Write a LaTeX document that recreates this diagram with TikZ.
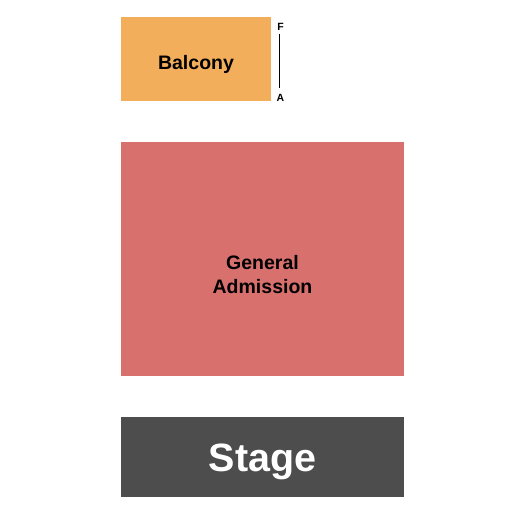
\documentclass[tikz,border=0pt]{standalone}
\usepackage{fontspec}
\setmainfont{Liberation Sans}
\definecolor{balc}{HTML}{F3AE5B}
\definecolor{ga}{HTML}{D8706E}
\definecolor{stg}{HTML}{4D4D4D}
\begin{document}
\begin{tikzpicture}[x=1pt,y=-1pt,
  sect/.style={draw=none,inner sep=0pt,anchor=north west},
  lbl/.style={font=\fontsize{19.5}{22.5}\selectfont\bfseries,inner sep=0pt,anchor=base},
  rowlbl/.style={font=\fontsize{10.5}{12}\selectfont\bfseries,inner sep=0pt,anchor=base}]
\useasboundingbox (0,0) rectangle (525,525);
\fill[white] (0,0) rectangle (525,525);
\node[sect,fill=balc,minimum width=150pt,minimum height=84pt] (balcony) at (121,17) {};
\node[lbl] (tb) at (196,69) {Balcony};
\node[sect,fill=ga,minimum width=283pt,minimum height=234pt] (gen) at (121,142) {};
\node[lbl] (tg1) at (262.5,269.5) {General};
\node[lbl] (tg2) at (262.5,293) {Admission};
\node[sect,fill=stg,minimum width=283pt,minimum height=80pt] (stage) at (121,417) {};
\node[lbl,text=white,font=\fontsize{39.5}{44}\selectfont\bfseries] (ts) at (262.5,471) {Stage};
\node[rowlbl] (F) at (280.5,30) {F};
\node[rowlbl] (A) at (280.5,101.5) {A};
\draw[line width=1pt] (279.5,34) -- (279.5,88);
\end{tikzpicture}
\end{document}
